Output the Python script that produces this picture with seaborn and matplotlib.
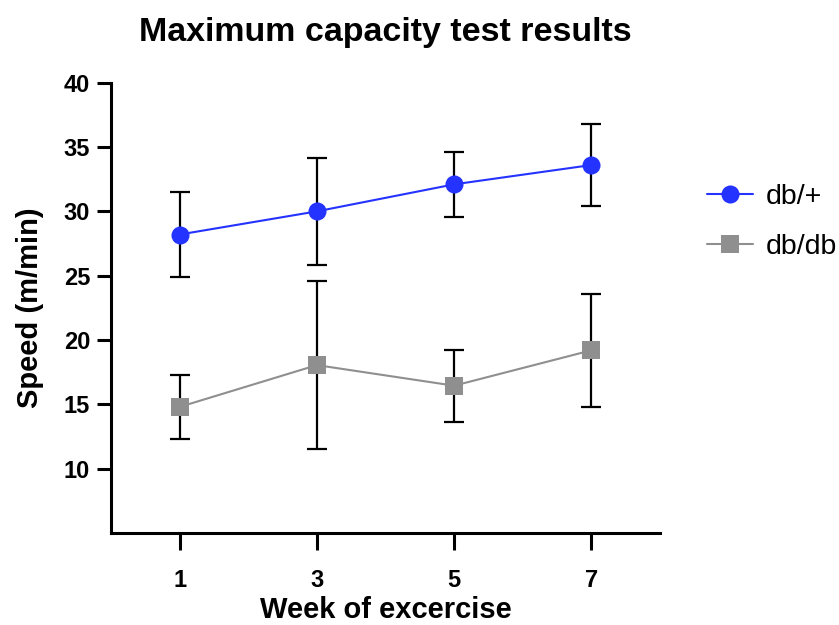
import matplotlib
matplotlib.use("Agg")
import matplotlib.pyplot as plt
import seaborn as sns
import pandas as pd

weeks = [1, 3, 5, 7]
groups = ["db/+", "db/db"]
mean_dbplus = [28.2, 30.0, 32.1, 33.6]
sd_dbplus = [3.3, 4.15, 2.5, 3.2]
mean_dbdb = [14.8, 18.05, 16.45, 19.2]
sd_dbdb = [2.5, 6.5, 2.8, 4.4]
y_ticks = [10, 15, 20, 25, 30, 35, 40]

colors = {"db/+": "#2433FF", "db/db": "#8F8F8F"}
markers = {"db/+": "o", "db/db": "s"}

df = pd.DataFrame({
    "week": weeks * 2,
    "speed": mean_dbplus + mean_dbdb,
    "sd": sd_dbplus + sd_dbdb,
    "group": [groups[0]] * 4 + [groups[1]] * 4,
})

sns.set_style("ticks")
plt.rcParams["font.family"] = ["Liberation Sans", "DejaVu Sans"]
plt.rcParams.update({
    "text.color": "black", "axes.labelcolor": "black",
    "xtick.color": "black", "ytick.color": "black",
    "axes.edgecolor": "black",
})

fig = plt.figure(figsize=(8.39, 6.25), dpi=100)
ax = fig.add_axes([111 / 839, 1 - 533 / 625, 549 / 839, 450.3 / 625])

for g in groups:
    sub = df[df.group == g]
    ax.errorbar(sub.week, sub.speed, yerr=sub.sd, fmt="none", ecolor="black",
                elinewidth=1.6, capsize=7, capthick=1.6, zorder=1)

sns.lineplot(data=df, x="week", y="speed", hue="group", style="group",
             palette=colors, markers=markers, dashes=False, ax=ax,
             linewidth=1.5, markersize=13, markeredgewidth=0, zorder=3)

ax.set_xlim(0, 8)
ax.set_ylim(5, 40)
ax.set_xticks(weeks)
ax.set_yticks(y_ticks)
ax.tick_params(axis="both", width=2.2, labelsize=17)
ax.tick_params(axis="y", length=10, pad=5)
ax.tick_params(axis="x", length=12, pad=14)
for lab in ax.get_xticklabels() + ax.get_yticklabels():
    lab.set_fontweight("bold")
for s in ["left", "bottom"]:
    ax.spines[s].set_linewidth(2.2)
sns.despine(ax=ax)

ax.set_xlabel("Week of excercise", fontsize=21, fontweight="bold", labelpad=3)
ax.set_ylabel("Speed (m/min)", fontsize=21, fontweight="bold", labelpad=14)
ax.set_title("Maximum capacity test results", fontsize=24.5, fontweight="bold", pad=30)

handles, labels = ax.get_legend_handles_labels()
ax.legend(handles, labels, loc="center left", bbox_to_anchor=(1.0856, 0.69),
          frameon=False, fontsize=20.5, handlelength=1.6, handletextpad=0.45,
          labelspacing=0.85, borderpad=0, borderaxespad=0)

fig.savefig("out.png", dpi=100)
